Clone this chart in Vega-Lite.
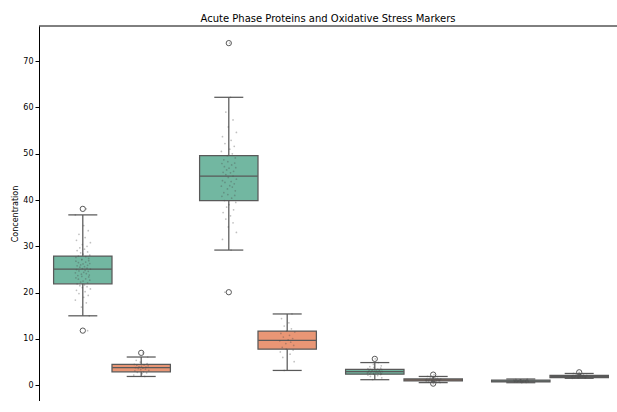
{
  "$schema": "https://vega.github.io/schema/vega-lite/v6.json",
  "width": 578,
  "height": 375,
  "autosize": {"type": "none"},
  "padding": {"left": 39, "top": 26, "right": 0, "bottom": 0},
  "background": "white",
  "title": {"text": "Acute Phase Proteins and Oxidative Stress Markers", "font": "DejaVu Sans", "fontSize": 10, "fontWeight": "normal", "color": "#000", "anchor": "middle", "offset": 2},
  "config": {
    "view": {"stroke": null},
    "font": "DejaVu Sans",
    "axis": {"labelFont": "DejaVu Sans", "titleFont": "DejaVu Sans", "labelFontSize": 8, "titleFontSize": 8, "titleFontWeight": "normal", "labelColor": "#000", "titleColor": "#000", "domainColor": "#000", "tickColor": "#000", "grid": false, "tickSize": 4, "domainWidth": 1, "tickWidth": 1}
  },
  "datasets": {
    "stats": [
      {"m": "CRP (mg/L)", "g": "A", "lo": 15.0, "q1": 21.9, "med": 25.1, "q3": 27.9, "hi": 36.8},
      {"m": "CRP (mg/L)", "g": "B", "lo": 1.9, "q1": 2.9, "med": 3.8, "q3": 4.5, "hi": 6.1},
      {"m": "SAA (mg/L)", "g": "A", "lo": 29.2, "q1": 39.9, "med": 45.2, "q3": 49.6, "hi": 62.2},
      {"m": "SAA (mg/L)", "g": "B", "lo": 3.2, "q1": 7.8, "med": 9.7, "q3": 11.7, "hi": 15.4},
      {"m": "MDA (μmol/L)", "g": "A", "lo": 1.2, "q1": 2.4, "med": 2.95, "q3": 3.45, "hi": 4.9},
      {"m": "MDA (μmol/L)", "g": "B", "lo": 0.57, "q1": 0.93, "med": 1.15, "q3": 1.36, "hi": 1.9},
      {"m": "TAC (mmol/L)", "g": "A", "lo": 0.55, "q1": 0.75, "med": 0.92, "q3": 1.1, "hi": 1.35},
      {"m": "TAC (mmol/L)", "g": "B", "lo": 1.5, "q1": 1.65, "med": 1.9, "q3": 2.15, "hi": 2.55}
    ],
    "outliers": [
      {"m": "CRP (mg/L)", "g": "A", "v": 38.1},
      {"m": "CRP (mg/L)", "g": "A", "v": 11.8},
      {"m": "CRP (mg/L)", "g": "B", "v": 7.0},
      {"m": "SAA (mg/L)", "g": "A", "v": 73.9},
      {"m": "SAA (mg/L)", "g": "A", "v": 20.1},
      {"m": "MDA (μmol/L)", "g": "A", "v": 5.7},
      {"m": "MDA (μmol/L)", "g": "B", "v": 2.3},
      {"m": "MDA (μmol/L)", "g": "B", "v": 0.35},
      {"m": "TAC (mmol/L)", "g": "B", "v": 2.8}
    ],
    "stripA": [
      {"m": "CRP (mg/L)", "v": 11.8, "j": 0.6},
      {"m": "CRP (mg/L)", "v": 15.0, "j": 0.81},
      {"m": "CRP (mg/L)", "v": 16.9, "j": -0.17},
      {"m": "CRP (mg/L)", "v": 17.8, "j": 0.44},
      {"m": "CRP (mg/L)", "v": 18.4, "j": -0.93},
      {"m": "CRP (mg/L)", "v": 19.0, "j": 0.12},
      {"m": "CRP (mg/L)", "v": 19.4, "j": 0.68},
      {"m": "CRP (mg/L)", "v": 19.8, "j": -0.48},
      {"m": "CRP (mg/L)", "v": 20.2, "j": 0.29},
      {"m": "CRP (mg/L)", "v": 20.5, "j": -0.79},
      {"m": "CRP (mg/L)", "v": 20.8, "j": 0.95},
      {"m": "CRP (mg/L)", "v": 21.1, "j": -0.06},
      {"m": "CRP (mg/L)", "v": 21.3, "j": 0.53},
      {"m": "CRP (mg/L)", "v": 21.5, "j": -0.37},
      {"m": "CRP (mg/L)", "v": 21.7, "j": 0.21},
      {"m": "CRP (mg/L)", "v": 21.9, "j": -0.71},
      {"m": "CRP (mg/L)", "v": 22.1, "j": 0.6},
      {"m": "CRP (mg/L)", "v": 22.3, "j": -0.27},
      {"m": "CRP (mg/L)", "v": 22.5, "j": 0.03},
      {"m": "CRP (mg/L)", "v": 22.7, "j": 0.87},
      {"m": "CRP (mg/L)", "v": 22.9, "j": -0.55},
      {"m": "CRP (mg/L)", "v": 23.0, "j": 0.36},
      {"m": "CRP (mg/L)", "v": 23.2, "j": -0.86},
      {"m": "CRP (mg/L)", "v": 23.4, "j": 0.74},
      {"m": "CRP (mg/L)", "v": 23.5, "j": -0.12},
      {"m": "CRP (mg/L)", "v": 23.7, "j": -0.62},
      {"m": "CRP (mg/L)", "v": 23.8, "j": 0.81},
      {"m": "CRP (mg/L)", "v": 24.0, "j": -0.17},
      {"m": "CRP (mg/L)", "v": 24.1, "j": 0.44},
      {"m": "CRP (mg/L)", "v": 24.3, "j": -0.93},
      {"m": "CRP (mg/L)", "v": 24.4, "j": 0.12},
      {"m": "CRP (mg/L)", "v": 24.6, "j": 0.68},
      {"m": "CRP (mg/L)", "v": 24.7, "j": -0.48},
      {"m": "CRP (mg/L)", "v": 24.8, "j": 0.29},
      {"m": "CRP (mg/L)", "v": 25.0, "j": -0.79},
      {"m": "CRP (mg/L)", "v": 25.1, "j": 0.95},
      {"m": "CRP (mg/L)", "v": 25.2, "j": -0.06},
      {"m": "CRP (mg/L)", "v": 25.3, "j": 0.53},
      {"m": "CRP (mg/L)", "v": 25.5, "j": -0.37},
      {"m": "CRP (mg/L)", "v": 25.6, "j": 0.21},
      {"m": "CRP (mg/L)", "v": 25.8, "j": -0.71},
      {"m": "CRP (mg/L)", "v": 25.9, "j": 0.6},
      {"m": "CRP (mg/L)", "v": 26.0, "j": -0.27},
      {"m": "CRP (mg/L)", "v": 26.2, "j": 0.03},
      {"m": "CRP (mg/L)", "v": 26.3, "j": 0.87},
      {"m": "CRP (mg/L)", "v": 26.5, "j": -0.55},
      {"m": "CRP (mg/L)", "v": 26.6, "j": 0.36},
      {"m": "CRP (mg/L)", "v": 26.8, "j": -0.86},
      {"m": "CRP (mg/L)", "v": 26.9, "j": 0.74},
      {"m": "CRP (mg/L)", "v": 27.1, "j": -0.12},
      {"m": "CRP (mg/L)", "v": 27.2, "j": -0.12},
      {"m": "CRP (mg/L)", "v": 27.4, "j": 0.74},
      {"m": "CRP (mg/L)", "v": 27.6, "j": -0.86},
      {"m": "CRP (mg/L)", "v": 27.8, "j": 0.36},
      {"m": "CRP (mg/L)", "v": 27.9, "j": -0.55},
      {"m": "CRP (mg/L)", "v": 28.1, "j": 0.87},
      {"m": "CRP (mg/L)", "v": 28.3, "j": 0.03},
      {"m": "CRP (mg/L)", "v": 28.6, "j": -0.27},
      {"m": "CRP (mg/L)", "v": 28.8, "j": 0.6},
      {"m": "CRP (mg/L)", "v": 29.1, "j": -0.71},
      {"m": "CRP (mg/L)", "v": 29.4, "j": 0.21},
      {"m": "CRP (mg/L)", "v": 29.7, "j": -0.37},
      {"m": "CRP (mg/L)", "v": 30.0, "j": 0.53},
      {"m": "CRP (mg/L)", "v": 30.4, "j": -0.06},
      {"m": "CRP (mg/L)", "v": 30.8, "j": 0.95},
      {"m": "CRP (mg/L)", "v": 31.3, "j": -0.79},
      {"m": "CRP (mg/L)", "v": 31.9, "j": 0.29},
      {"m": "CRP (mg/L)", "v": 32.6, "j": -0.48},
      {"m": "CRP (mg/L)", "v": 33.4, "j": 0.68},
      {"m": "CRP (mg/L)", "v": 34.5, "j": 0.12},
      {"m": "CRP (mg/L)", "v": 36.8, "j": -0.93},
      {"m": "CRP (mg/L)", "v": 38.1, "j": 0.44},
      {"m": "SAA (mg/L)", "v": 20.1, "j": -0.48},
      {"m": "SAA (mg/L)", "v": 29.2, "j": 0.29},
      {"m": "SAA (mg/L)", "v": 31.5, "j": -0.79},
      {"m": "SAA (mg/L)", "v": 33.0, "j": 0.95},
      {"m": "SAA (mg/L)", "v": 34.2, "j": -0.06},
      {"m": "SAA (mg/L)", "v": 35.1, "j": 0.53},
      {"m": "SAA (mg/L)", "v": 35.9, "j": -0.37},
      {"m": "SAA (mg/L)", "v": 36.6, "j": 0.21},
      {"m": "SAA (mg/L)", "v": 37.3, "j": -0.71},
      {"m": "SAA (mg/L)", "v": 37.9, "j": 0.6},
      {"m": "SAA (mg/L)", "v": 38.5, "j": -0.27},
      {"m": "SAA (mg/L)", "v": 39.0, "j": 0.03},
      {"m": "SAA (mg/L)", "v": 39.5, "j": 0.87},
      {"m": "SAA (mg/L)", "v": 39.9, "j": -0.55},
      {"m": "SAA (mg/L)", "v": 40.4, "j": 0.36},
      {"m": "SAA (mg/L)", "v": 40.8, "j": -0.86},
      {"m": "SAA (mg/L)", "v": 41.0, "j": 0.74},
      {"m": "SAA (mg/L)", "v": 41.2, "j": -0.12},
      {"m": "SAA (mg/L)", "v": 41.6, "j": -0.62},
      {"m": "SAA (mg/L)", "v": 42.0, "j": 0.81},
      {"m": "SAA (mg/L)", "v": 42.4, "j": -0.17},
      {"m": "SAA (mg/L)", "v": 42.8, "j": 0.44},
      {"m": "SAA (mg/L)", "v": 43.0, "j": -0.93},
      {"m": "SAA (mg/L)", "v": 43.1, "j": 0.12},
      {"m": "SAA (mg/L)", "v": 43.5, "j": 0.68},
      {"m": "SAA (mg/L)", "v": 43.8, "j": -0.48},
      {"m": "SAA (mg/L)", "v": 44.0, "j": 0.29},
      {"m": "SAA (mg/L)", "v": 44.2, "j": -0.79},
      {"m": "SAA (mg/L)", "v": 44.5, "j": 0.95},
      {"m": "SAA (mg/L)", "v": 44.9, "j": -0.06},
      {"m": "SAA (mg/L)", "v": 45.2, "j": 0.53},
      {"m": "SAA (mg/L)", "v": 45.5, "j": -0.37},
      {"m": "SAA (mg/L)", "v": 45.9, "j": 0.21},
      {"m": "SAA (mg/L)", "v": 46.0, "j": -0.71},
      {"m": "SAA (mg/L)", "v": 46.2, "j": 0.6},
      {"m": "SAA (mg/L)", "v": 46.5, "j": -0.27},
      {"m": "SAA (mg/L)", "v": 46.9, "j": 0.03},
      {"m": "SAA (mg/L)", "v": 47.0, "j": 0.87},
      {"m": "SAA (mg/L)", "v": 47.2, "j": -0.55},
      {"m": "SAA (mg/L)", "v": 47.6, "j": 0.36},
      {"m": "SAA (mg/L)", "v": 47.9, "j": -0.86},
      {"m": "SAA (mg/L)", "v": 48.0, "j": 0.74},
      {"m": "SAA (mg/L)", "v": 48.3, "j": -0.12},
      {"m": "SAA (mg/L)", "v": 48.7, "j": -0.62},
      {"m": "SAA (mg/L)", "v": 49.1, "j": 0.81},
      {"m": "SAA (mg/L)", "v": 49.6, "j": -0.17},
      {"m": "SAA (mg/L)", "v": 50.0, "j": 0.44},
      {"m": "SAA (mg/L)", "v": 50.5, "j": -0.93},
      {"m": "SAA (mg/L)", "v": 51.0, "j": 0.12},
      {"m": "SAA (mg/L)", "v": 51.6, "j": 0.68},
      {"m": "SAA (mg/L)", "v": 52.2, "j": -0.48},
      {"m": "SAA (mg/L)", "v": 52.9, "j": 0.29},
      {"m": "SAA (mg/L)", "v": 53.7, "j": -0.79},
      {"m": "SAA (mg/L)", "v": 54.6, "j": 0.95},
      {"m": "SAA (mg/L)", "v": 55.8, "j": -0.06},
      {"m": "SAA (mg/L)", "v": 57.3, "j": 0.53},
      {"m": "SAA (mg/L)", "v": 59.0, "j": -0.37},
      {"m": "SAA (mg/L)", "v": 62.2, "j": 0.21},
      {"m": "SAA (mg/L)", "v": 73.9, "j": 0.1},
      {"m": "MDA (μmol/L)", "v": 1.2, "j": -0.27},
      {"m": "MDA (μmol/L)", "v": 1.6, "j": 0.87},
      {"m": "MDA (μmol/L)", "v": 1.9, "j": -0.55},
      {"m": "MDA (μmol/L)", "v": 2.1, "j": 0.36},
      {"m": "MDA (μmol/L)", "v": 2.2, "j": -0.86},
      {"m": "MDA (μmol/L)", "v": 2.3, "j": 0.74},
      {"m": "MDA (μmol/L)", "v": 2.4, "j": -0.12},
      {"m": "MDA (μmol/L)", "v": 2.45, "j": -0.62},
      {"m": "MDA (μmol/L)", "v": 2.5, "j": 0.81},
      {"m": "MDA (μmol/L)", "v": 2.55, "j": -0.17},
      {"m": "MDA (μmol/L)", "v": 2.6, "j": 0.44},
      {"m": "MDA (μmol/L)", "v": 2.65, "j": -0.93},
      {"m": "MDA (μmol/L)", "v": 2.7, "j": 0.12},
      {"m": "MDA (μmol/L)", "v": 2.75, "j": 0.68},
      {"m": "MDA (μmol/L)", "v": 2.8, "j": -0.48},
      {"m": "MDA (μmol/L)", "v": 2.85, "j": 0.29},
      {"m": "MDA (μmol/L)", "v": 2.9, "j": -0.79},
      {"m": "MDA (μmol/L)", "v": 2.95, "j": 0.95},
      {"m": "MDA (μmol/L)", "v": 3.0, "j": -0.06},
      {"m": "MDA (μmol/L)", "v": 3.05, "j": 0.53},
      {"m": "MDA (μmol/L)", "v": 3.1, "j": -0.37},
      {"m": "MDA (μmol/L)", "v": 3.15, "j": 0.21},
      {"m": "MDA (μmol/L)", "v": 3.2, "j": -0.71},
      {"m": "MDA (μmol/L)", "v": 3.25, "j": 0.6},
      {"m": "MDA (μmol/L)", "v": 3.3, "j": -0.27},
      {"m": "MDA (μmol/L)", "v": 3.35, "j": 0.03},
      {"m": "MDA (μmol/L)", "v": 3.4, "j": 0.87},
      {"m": "MDA (μmol/L)", "v": 3.45, "j": -0.55},
      {"m": "MDA (μmol/L)", "v": 3.5, "j": 0.36},
      {"m": "MDA (μmol/L)", "v": 3.6, "j": -0.86},
      {"m": "MDA (μmol/L)", "v": 3.7, "j": 0.74},
      {"m": "MDA (μmol/L)", "v": 3.85, "j": -0.12},
      {"m": "MDA (μmol/L)", "v": 4.0, "j": -0.62},
      {"m": "MDA (μmol/L)", "v": 4.2, "j": 0.81},
      {"m": "MDA (μmol/L)", "v": 4.5, "j": -0.17},
      {"m": "MDA (μmol/L)", "v": 4.9, "j": 0.44},
      {"m": "MDA (μmol/L)", "v": 5.7, "j": 0.05},
      {"m": "TAC (mmol/L)", "v": 0.55, "j": 0.12},
      {"m": "TAC (mmol/L)", "v": 0.62, "j": 0.68},
      {"m": "TAC (mmol/L)", "v": 0.68, "j": -0.48},
      {"m": "TAC (mmol/L)", "v": 0.72, "j": 0.29},
      {"m": "TAC (mmol/L)", "v": 0.75, "j": -0.79},
      {"m": "TAC (mmol/L)", "v": 0.78, "j": 0.95},
      {"m": "TAC (mmol/L)", "v": 0.81, "j": -0.06},
      {"m": "TAC (mmol/L)", "v": 0.84, "j": 0.53},
      {"m": "TAC (mmol/L)", "v": 0.87, "j": -0.37},
      {"m": "TAC (mmol/L)", "v": 0.9, "j": 0.21},
      {"m": "TAC (mmol/L)", "v": 0.92, "j": -0.71},
      {"m": "TAC (mmol/L)", "v": 0.94, "j": 0.6},
      {"m": "TAC (mmol/L)", "v": 0.97, "j": -0.27},
      {"m": "TAC (mmol/L)", "v": 1.0, "j": 0.03},
      {"m": "TAC (mmol/L)", "v": 1.03, "j": 0.87},
      {"m": "TAC (mmol/L)", "v": 1.06, "j": -0.55},
      {"m": "TAC (mmol/L)", "v": 1.08, "j": 0.36},
      {"m": "TAC (mmol/L)", "v": 1.1, "j": -0.86},
      {"m": "TAC (mmol/L)", "v": 1.14, "j": 0.74},
      {"m": "TAC (mmol/L)", "v": 1.19, "j": -0.12},
      {"m": "TAC (mmol/L)", "v": 1.26, "j": -0.62},
      {"m": "TAC (mmol/L)", "v": 1.35, "j": 0.81}
    ],
    "stripB": [
      {"m": "CRP (mg/L)", "v": 1.9, "j": 0.44},
      {"m": "CRP (mg/L)", "v": 2.2, "j": -0.93},
      {"m": "CRP (mg/L)", "v": 2.5, "j": 0.12},
      {"m": "CRP (mg/L)", "v": 2.7, "j": 0.68},
      {"m": "CRP (mg/L)", "v": 2.8, "j": -0.48},
      {"m": "CRP (mg/L)", "v": 2.9, "j": 0.29},
      {"m": "CRP (mg/L)", "v": 3.1, "j": -0.79},
      {"m": "CRP (mg/L)", "v": 3.2, "j": 0.95},
      {"m": "CRP (mg/L)", "v": 3.4, "j": -0.06},
      {"m": "CRP (mg/L)", "v": 3.5, "j": 0.53},
      {"m": "CRP (mg/L)", "v": 3.6, "j": -0.37},
      {"m": "CRP (mg/L)", "v": 3.7, "j": 0.21},
      {"m": "CRP (mg/L)", "v": 3.8, "j": -0.71},
      {"m": "CRP (mg/L)", "v": 3.9, "j": 0.6},
      {"m": "CRP (mg/L)", "v": 4.0, "j": -0.27},
      {"m": "CRP (mg/L)", "v": 4.1, "j": 0.03},
      {"m": "CRP (mg/L)", "v": 4.2, "j": 0.87},
      {"m": "CRP (mg/L)", "v": 4.3, "j": -0.55},
      {"m": "CRP (mg/L)", "v": 4.4, "j": 0.36},
      {"m": "CRP (mg/L)", "v": 4.5, "j": -0.86},
      {"m": "CRP (mg/L)", "v": 4.7, "j": 0.74},
      {"m": "CRP (mg/L)", "v": 5.0, "j": -0.12},
      {"m": "CRP (mg/L)", "v": 5.4, "j": -0.62},
      {"m": "CRP (mg/L)", "v": 6.1, "j": 0.81},
      {"m": "CRP (mg/L)", "v": 7.0, "j": 0.2},
      {"m": "SAA (mg/L)", "v": 3.2, "j": -0.37},
      {"m": "SAA (mg/L)", "v": 5.1, "j": 0.87},
      {"m": "SAA (mg/L)", "v": 6.0, "j": -0.55},
      {"m": "SAA (mg/L)", "v": 6.7, "j": 0.36},
      {"m": "SAA (mg/L)", "v": 7.2, "j": -0.86},
      {"m": "SAA (mg/L)", "v": 7.6, "j": 0.74},
      {"m": "SAA (mg/L)", "v": 7.8, "j": -0.12},
      {"m": "SAA (mg/L)", "v": 8.2, "j": -0.62},
      {"m": "SAA (mg/L)", "v": 8.6, "j": 0.81},
      {"m": "SAA (mg/L)", "v": 9.0, "j": -0.17},
      {"m": "SAA (mg/L)", "v": 9.3, "j": 0.44},
      {"m": "SAA (mg/L)", "v": 9.6, "j": -0.93},
      {"m": "SAA (mg/L)", "v": 9.8, "j": 0.12},
      {"m": "SAA (mg/L)", "v": 10.1, "j": 0.68},
      {"m": "SAA (mg/L)", "v": 10.4, "j": -0.48},
      {"m": "SAA (mg/L)", "v": 10.8, "j": 0.29},
      {"m": "SAA (mg/L)", "v": 11.2, "j": -0.79},
      {"m": "SAA (mg/L)", "v": 11.5, "j": 0.95},
      {"m": "SAA (mg/L)", "v": 11.7, "j": -0.06},
      {"m": "SAA (mg/L)", "v": 12.2, "j": 0.53},
      {"m": "SAA (mg/L)", "v": 12.8, "j": -0.37},
      {"m": "SAA (mg/L)", "v": 13.5, "j": 0.21},
      {"m": "SAA (mg/L)", "v": 14.4, "j": -0.71},
      {"m": "SAA (mg/L)", "v": 15.4, "j": 0.6},
      {"m": "MDA (μmol/L)", "v": 0.35, "j": 0.03},
      {"m": "MDA (μmol/L)", "v": 0.57, "j": 0.87},
      {"m": "MDA (μmol/L)", "v": 0.7, "j": -0.55},
      {"m": "MDA (μmol/L)", "v": 0.8, "j": 0.36},
      {"m": "MDA (μmol/L)", "v": 0.88, "j": -0.86},
      {"m": "MDA (μmol/L)", "v": 0.93, "j": 0.74},
      {"m": "MDA (μmol/L)", "v": 0.98, "j": -0.12},
      {"m": "MDA (μmol/L)", "v": 1.02, "j": -0.62},
      {"m": "MDA (μmol/L)", "v": 1.06, "j": 0.81},
      {"m": "MDA (μmol/L)", "v": 1.1, "j": -0.17},
      {"m": "MDA (μmol/L)", "v": 1.13, "j": 0.44},
      {"m": "MDA (μmol/L)", "v": 1.15, "j": -0.93},
      {"m": "MDA (μmol/L)", "v": 1.18, "j": 0.12},
      {"m": "MDA (μmol/L)", "v": 1.22, "j": 0.68},
      {"m": "MDA (μmol/L)", "v": 1.26, "j": -0.48},
      {"m": "MDA (μmol/L)", "v": 1.3, "j": 0.29},
      {"m": "MDA (μmol/L)", "v": 1.34, "j": -0.79},
      {"m": "MDA (μmol/L)", "v": 1.36, "j": 0.95},
      {"m": "MDA (μmol/L)", "v": 1.42, "j": -0.06},
      {"m": "MDA (μmol/L)", "v": 1.5, "j": 0.53},
      {"m": "MDA (μmol/L)", "v": 1.6, "j": -0.37},
      {"m": "MDA (μmol/L)", "v": 1.75, "j": 0.21},
      {"m": "MDA (μmol/L)", "v": 1.9, "j": -0.71},
      {"m": "MDA (μmol/L)", "v": 2.3, "j": 0.1},
      {"m": "TAC (mmol/L)", "v": 1.5, "j": -0.86},
      {"m": "TAC (mmol/L)", "v": 1.56, "j": 0.74},
      {"m": "TAC (mmol/L)", "v": 1.62, "j": -0.12},
      {"m": "TAC (mmol/L)", "v": 1.65, "j": -0.62},
      {"m": "TAC (mmol/L)", "v": 1.7, "j": 0.81},
      {"m": "TAC (mmol/L)", "v": 1.75, "j": -0.17},
      {"m": "TAC (mmol/L)", "v": 1.8, "j": 0.44},
      {"m": "TAC (mmol/L)", "v": 1.85, "j": -0.93},
      {"m": "TAC (mmol/L)", "v": 1.9, "j": 0.12},
      {"m": "TAC (mmol/L)", "v": 1.94, "j": 0.68},
      {"m": "TAC (mmol/L)", "v": 1.98, "j": -0.48},
      {"m": "TAC (mmol/L)", "v": 2.03, "j": 0.29},
      {"m": "TAC (mmol/L)", "v": 2.08, "j": -0.79},
      {"m": "TAC (mmol/L)", "v": 2.12, "j": 0.95},
      {"m": "TAC (mmol/L)", "v": 2.15, "j": -0.06},
      {"m": "TAC (mmol/L)", "v": 2.22, "j": 0.53},
      {"m": "TAC (mmol/L)", "v": 2.3, "j": -0.37},
      {"m": "TAC (mmol/L)", "v": 2.42, "j": 0.21},
      {"m": "TAC (mmol/L)", "v": 2.55, "j": -0.71},
      {"m": "TAC (mmol/L)", "v": 2.8, "j": 0.0}
    ]
  },
  "encoding": {
    "x": {
      "field": "m", "type": "nominal", "title": null,
      "scale": {"type": "band", "domain": ["CRP (mg/L)", "SAA (mg/L)", "MDA (μmol/L)", "TAC (mmol/L)"], "paddingInner": 0.2, "paddingOuter": 0.0795, "align": 0.629},
      "axis": {"labelAngle": 0, "labelPadding": 1, "domainColor": "#000"}
    }
  },
  "resolve": {"scale": {"xOffset": "independent"}},
  "layer": [
    {
      "data": {"name": "stats"},
      "mark": {"type": "rule", "color": "#595959", "strokeWidth": 1.25},
      "encoding": {
        "xOffset": {"field": "g", "type": "nominal", "scale": {"type": "band", "domain": ["A", "B"], "paddingInner": 0, "paddingOuter": 0}},
        "y": {"field": "lo", "type": "quantitative", "title": "Concentration", "scale": {"domain": [-3.4, 77.6], "nice": false, "zero": false}, "axis": {"values": [0, 10, 20, 30, 40, 50, 60, 70], "labelPadding": 2, "titlePadding": 3}},
        "y2": {"field": "hi"}
      }
    },
    {
      "data": {"name": "stats"},
      "mark": {"type": "bar", "stroke": "#595959", "strokeWidth": 1.25},
      "encoding": {
        "xOffset": {"field": "g", "type": "nominal", "scale": {"type": "band", "domain": ["A", "B"], "paddingInner": 0, "paddingOuter": 0}},
        "y": {"field": "q1", "type": "quantitative", "title": "Concentration"},
        "y2": {"field": "q3"},
        "color": {"field": "g", "type": "nominal", "legend": null, "scale": {"domain": ["A", "B"], "range": ["#72b7a1", "#e99675"]}}
      }
    },
    {
      "data": {"name": "stats"},
      "mark": {"type": "tick", "color": "#595959", "thickness": 1.25, "size": 58, "opacity": 1},
      "encoding": {
        "xOffset": {"field": "g", "type": "nominal", "scale": {"type": "band", "domain": ["A", "B"], "paddingInner": 0, "paddingOuter": 0}},
        "y": {"field": "med", "type": "quantitative", "title": "Concentration"}
      }
    },
    {
      "data": {"name": "stats"},
      "mark": {"type": "tick", "color": "#595959", "thickness": 1.25, "size": 29, "opacity": 1},
      "encoding": {
        "xOffset": {"field": "g", "type": "nominal", "scale": {"type": "band", "domain": ["A", "B"], "paddingInner": 0, "paddingOuter": 0}},
        "y": {"field": "lo", "type": "quantitative", "title": "Concentration"}
      }
    },
    {
      "data": {"name": "stats"},
      "mark": {"type": "tick", "color": "#595959", "thickness": 1.25, "size": 29, "opacity": 1},
      "encoding": {
        "xOffset": {"field": "g", "type": "nominal", "scale": {"type": "band", "domain": ["A", "B"], "paddingInner": 0, "paddingOuter": 0}},
        "y": {"field": "hi", "type": "quantitative", "title": "Concentration"}
      }
    },
    {
      "data": {"name": "outliers"},
      "mark": {"type": "point", "shape": "circle", "filled": false, "size": 28, "stroke": "#595959", "strokeWidth": 1, "opacity": 1},
      "encoding": {
        "xOffset": {"field": "g", "type": "nominal", "scale": {"type": "band", "domain": ["A", "B"], "paddingInner": 0, "paddingOuter": 0}},
        "y": {"field": "v", "type": "quantitative", "title": "Concentration"}
      }
    },
    {
      "data": {"name": "stripA"},
      "mark": {"type": "circle", "size": 3, "color": "#4a4a4a", "opacity": 0.35},
      "encoding": {
        "xOffset": {"field": "j", "type": "quantitative", "scale": {"type": "linear", "domain": [-3.65, 10.95], "nice": false, "zero": false}},
        "y": {"field": "v", "type": "quantitative", "title": "Concentration"}
      }
    },
    {
      "data": {"name": "stripB"},
      "mark": {"type": "circle", "size": 3, "color": "#4a4a4a", "opacity": 0.35},
      "encoding": {
        "xOffset": {"field": "j", "type": "quantitative", "scale": {"type": "linear", "domain": [-10.95, 3.65], "nice": false, "zero": false}},
        "y": {"field": "v", "type": "quantitative", "title": "Concentration"}
      }
    },
    {
      "data": {"values": [{}]},
      "mark": {"type": "rule", "color": "#000", "strokeWidth": 1},
      "encoding": {"x": null, "y": {"datum": 77.6, "type": "quantitative", "title": "Concentration"}}
    }
  ]
}
